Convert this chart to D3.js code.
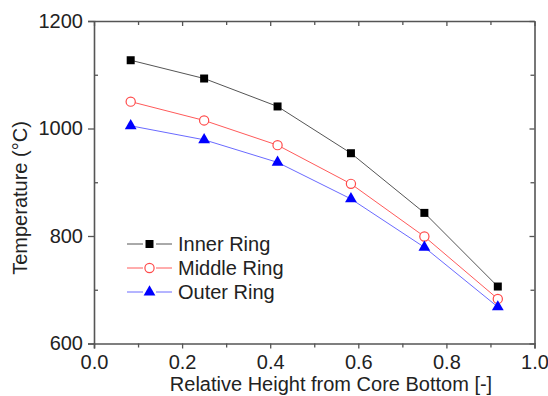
<!DOCTYPE html>
<html>
<head>
<meta charset="utf-8">
<script src="https://cdn.jsdelivr.net/npm/d3@7"></script>
<style>
  body { margin: 0; background: #fff; }
  text { font-family: "Liberation Sans", Arial, sans-serif; fill: #222; }
</style>
</head>
<body>
<svg id="chart" width="548" height="396"></svg>
<script>
// data
const heights = [0.0833, 0.25, 0.4167, 0.5833, 0.75, 0.9167];
const innerRing = [1127, 1093, 1041, 954, 843, 706];
const middleRing = [1050, 1015, 969, 897, 799, 683];
const outerRing = [1005, 979, 937, 869, 779, 668];
const seriesNames = ["Inner Ring", "Middle Ring", "Outer Ring"];
const xTicks = [0, 0.2, 0.4, 0.6, 0.8, 1.0];
const yTicks = [600, 800, 1000, 1200];

const margin = { top: 21, right: 13.5, bottom: 52.5, left: 94 };
const width = 548 - margin.left - margin.right;
const height = 396 - margin.top - margin.bottom;

const svg = d3.select("#chart");
const g = svg.append("g")
  .attr("transform", "translate(" + margin.left + "," + margin.top + ")");

const x = d3.scaleLinear().domain([0, 1]).range([0, width]);
const y = d3.scaleLinear().domain([600, 1200]).range([height, 0]);

const axisColor = "#555";
const fontSize = 20;

// bottom axis, major + minor ticks outward
g.append("g")
  .attr("transform", "translate(0," + height + ")")
  .call(d3.axisBottom(x).tickValues(xTicks).tickFormat(d3.format(".1f")).tickSize(5).tickPadding(6));
g.append("g")
  .attr("transform", "translate(0," + height + ")")
  .call(d3.axisBottom(x).tickValues(d3.range(0.1, 1, 0.2)).tickFormat("").tickSize(4))
  .select(".domain").remove();

// left axis
g.append("g")
  .call(d3.axisLeft(y).tickValues(yTicks).tickFormat(d3.format("d")).tickSize(6).tickPadding(5));
g.append("g")
  .call(d3.axisLeft(y).tickValues([700, 900, 1100]).tickFormat("").tickSize(-4).tickSizeOuter(0))
  .select(".domain").remove();

// top and right mirror axes, ticks inward
g.append("g")
  .call(d3.axisTop(x).tickValues(xTicks).tickFormat("").tickSize(-5).tickSizeOuter(0));
g.append("g")
  .call(d3.axisTop(x).tickValues(d3.range(0.1, 1, 0.2)).tickFormat("").tickSize(-4))
  .select(".domain").remove();
g.append("g")
  .attr("transform", "translate(" + width + ",0)")
  .call(d3.axisRight(y).tickValues(yTicks).tickFormat("").tickSize(-5).tickSizeOuter(0));
g.append("g")
  .attr("transform", "translate(" + width + ",0)")
  .call(d3.axisRight(y).tickValues([700, 900, 1100]).tickFormat("").tickSize(-4))
  .select(".domain").remove();

g.selectAll(".domain").attr("stroke", axisColor).attr("stroke-width", 1.6);
g.selectAll(".tick line").attr("stroke", axisColor).attr("stroke-width", 1.3);
g.selectAll(".tick text")
  .attr("font-size", fontSize)
  .attr("font-family", "Liberation Sans, Arial, sans-serif")
  .attr("fill", "#222");

// axis titles
svg.append("text")
  .attr("x", 331)
  .attr("y", 391)
  .attr("text-anchor", "middle")
  .attr("font-size", fontSize)
  .text("Relative Height from Core Bottom [-]");

svg.append("text")
  .attr("transform", "translate(27,198)rotate(-90)")
  .attr("text-anchor", "middle")
  .attr("font-size", fontSize)
  .text("Temperature (\u00B0C)");

const series = [
  { name: seriesNames[0], values: innerRing, line: "#555", marker: "square" },
  { name: seriesNames[1], values: middleRing, line: "#ff5a5a", marker: "circle" },
  { name: seriesNames[2], values: outerRing, line: "#6a6aff", marker: "triangle" }
];

const line = d3.line()
  .x((d, i) => x(heights[i]))
  .y(d => y(d));

function drawMarker(sel, type) {
  if (type === "square") {
    sel.append("path")
      .attr("d", d3.symbol().type(d3.symbolSquare).size(64))
      .attr("fill", "#000");
  } else if (type === "circle") {
    sel.append("circle")
      .attr("r", 4.6)
      .attr("fill", "#fff")
      .attr("stroke", "#ff4a4a")
      .attr("stroke-width", 1.2);
  } else {
    sel.append("path")
      .attr("d", d3.symbol().type(d3.symbolTriangle).size(60))
      .attr("fill", "#0000ff");
  }
}

series.forEach(s => {
  g.append("path")
    .datum(s.values)
    .attr("fill", "none")
    .attr("stroke", s.line)
    .attr("stroke-width", 1)
    .attr("d", line);

  g.selectAll(null)
    .data(s.values)
    .enter()
    .append("g")
    .attr("transform", (d, i) => "translate(" + x(heights[i]) + "," + y(d) + ")")
    .each(function () { drawMarker(d3.select(this), s.marker); });
});

// legend
const legendY = [244, 268, 292];
series.forEach((s, i) => {
  const lg = svg.append("g").attr("transform", "translate(0," + legendY[i] + ")");
  lg.append("line").attr("x1", 127).attr("x2", 143).attr("y1", 0).attr("y2", 0)
    .attr("stroke", s.line).attr("stroke-width", 1);
  lg.append("line").attr("x1", 156).attr("x2", 172).attr("y1", 0).attr("y2", 0)
    .attr("stroke", s.line).attr("stroke-width", 1);
  const m = lg.append("g").attr("transform", "translate(149.5,0)");
  drawMarker(m, s.marker);
  lg.append("text")
    .attr("x", 178)
    .attr("y", 7)
    .attr("font-size", fontSize)
    .text(s.name);
});
</script>
</body>
</html>
